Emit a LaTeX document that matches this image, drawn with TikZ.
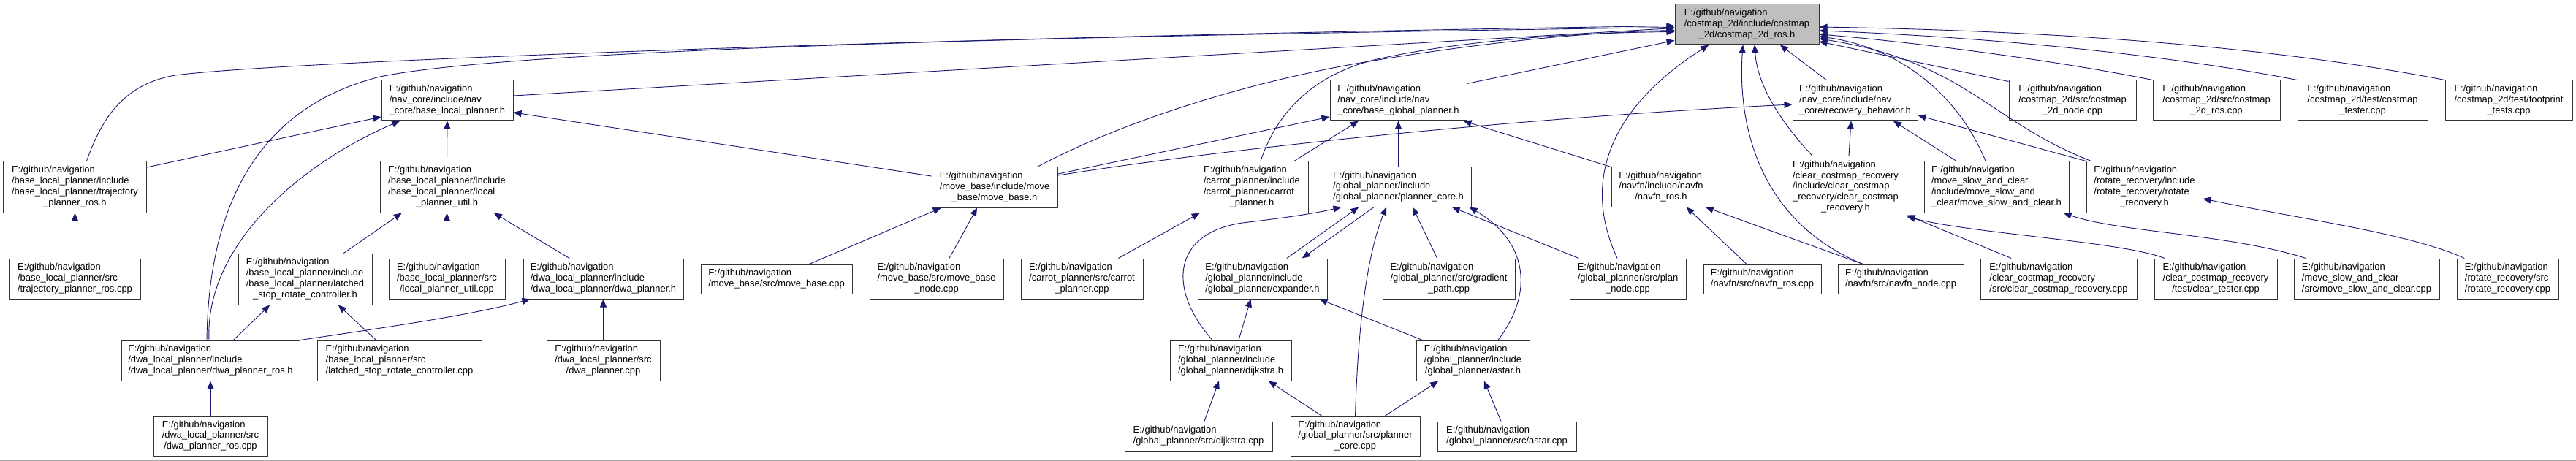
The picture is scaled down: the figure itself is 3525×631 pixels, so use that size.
\documentclass[tikz,border=0pt]{standalone}
\usepackage{fontspec}
\setmainfont{Liberation Sans}
\usetikzlibrary{arrows.meta}
\definecolor{edgeblue}{HTML}{191970}
\newcommand{\navfile}[2]{\begin{tabular}{@{}l@{}}E:/github/navigation\\#1\multicolumn{1}{@{}c@{}}{#2}\end{tabular}}
\begin{document}
\begin{tikzpicture}[x=1bp, y=-1bp, line join=round,
	file/.style={draw=black!80, line width=1bp, fill=white, inner sep=0pt, font=\fontsize{13}{14.8}\selectfont},
	box/.style 2 args={minimum width=#1bp, minimum height=#2bp},
	inc/.style={edgeblue, line width=0.9bp, -{Triangle[length=11bp, width=9bp]}}]
	\useasboundingbox (0,0) rectangle (3525,631);
	\fill[white] (0,0) rectangle (3525,631);
	\draw[black!35, line width=1.5bp] (0,630) -- (3525,630);

	\node[file, fill=black!25, box={197}{55}] (root) at (2390.5,33.5) {\navfile{/costmap\_2d/include/costmap\\}{\_2d/costmap\_2d\_ros.h}};

	\node[file, box={180}{55}] (blph) at (612,137.5) {\navfile{/nav\_core/include/nav\\}{\_core/base\_local\_planner.h}};
	\node[file, box={187}{55}] (bgph) at (1913.5,137.5) {\navfile{/nav\_core/include/nav\\}{\_core/base\_global\_planner.h}};
	\node[file, box={171}{55}] (rbh) at (2538.5,137.5) {\navfile{/nav\_core/include/nav\\}{\_core/recovery\_behavior.h}};
	\node[file, box={174}{55}] (c2dnode) at (2836,137.5) {\navfile{/costmap\_2d/src/costmap\\}{\_2d\_node.cpp}};
	\node[file, box={174}{55}] (c2dros) at (3033,137.5) {\navfile{/costmap\_2d/src/costmap\\}{\_2d\_ros.cpp}};
	\node[file, box={178}{55}] (ctester) at (3233,137.5) {\navfile{/costmap\_2d/test/costmap\\}{\_tester.cpp}};
	\node[file, box={174}{55}] (fptest) at (3433,137.5) {\navfile{/costmap\_2d/test/footprint\\}{\_tests.cpp}};

	\node[file, box={195}{70}] (tprh) at (102.5,256) {\navfile{/base\_local\_planner/include\\/base\_local\_planner/trajectory\\}{\_planner\_ros.h}};
	\node[file, box={183}{70}] (lpuh) at (611.5,256) {\navfile{/base\_local\_planner/include\\/base\_local\_planner/local\\}{\_planner\_util.h}};
	\node[file, box={172}{55}] (mbh) at (1361,256.5) {\navfile{/move\_base/include/move\\}{\_base/move\_base.h}};
	\node[file, box={154}{70}] (cph) at (1713,256) {\navfile{/carrot\_planner/include\\/carrot\_planner/carrot\\}{\_planner.h}};
	\node[file, box={199}{54}] (pch) at (1913.5,256) {\navfile{/global\_planner/include\\}{/global\_planner/planner\_core.h}};
	\node[file, box={136}{54}] (nrh) at (2273,256) {\navfile{/navfn/include/navfn\\}{/navfn\_ros.h}};
	\node[file, box={167}{84}] (ccrh) at (2525.5,256) {\navfile{/clear\_costmap\_recovery\\/include/clear\_costmap\\\_recovery/clear\_costmap\\}{\_recovery.h}};
	\node[file, box={198}{70}] (msch) at (2732,256) {\navfile{/move\_slow\_and\_clear\\/include/move\_slow\_and\\}{\_clear/move\_slow\_and\_clear.h}};
	\node[file, box={159}{70}] (rrh) at (2934.5,256) {\navfile{/rotate\_recovery/include\\/rotate\_recovery/rotate\\}{\_recovery.h}};

	\node[file, box={179}{55}] (tprcpp) at (102.5,381.5) {\navfile{/base\_local\_planner/src\\}{/trajectory\_planner\_ros.cpp}};
	\node[file, box={183}{70}] (lsrch) at (417.5,382) {\navfile{/base\_local\_planner/include\\/base\_local\_planner/latched\\}{\_stop\_rotate\_controller.h}};
	\node[file, box={159}{55}] (lpucpp) at (611.5,381.5) {\navfile{/base\_local\_planner/src\\}{/local\_planner\_util.cpp}};
	\node[file, box={219}{55}] (dph) at (825.5,381.5) {\navfile{/dwa\_local\_planner/include\\}{/dwa\_local\_planner/dwa\_planner.h}};
	\node[file, box={207}{40}] (mbcpp) at (1062.5,382) {\navfile{}{/move\_base/src/move\_base.cpp}};
	\node[file, box={183}{55}] (mbncpp) at (1281.5,381.5) {\navfile{/move\_base/src/move\_base\\}{\_node.cpp}};
	\node[file, box={167}{55}] (cpcpp) at (1480.5,381.5) {\navfile{/carrot\_planner/src/carrot\\}{\_planner.cpp}};
	\node[file, box={177}{55}] (exph) at (1727.5,381.5) {\navfile{/global\_planner/include\\}{/global\_planner/expander.h}};
	\node[file, box={181}{55}] (gpcpp) at (1982.5,381.5) {\navfile{/global\_planner/src/gradient\\}{\_path.cpp}};
	\node[file, box={159}{55}] (pncpp) at (2227.5,381.5) {\navfile{/global\_planner/src/plan\\}{\_node.cpp}};
	\node[file, box={161}{40}] (nrcpp) at (2411.5,382) {\navfile{}{/navfn/src/navfn\_ros.cpp}};
	\node[file, box={172}{40}] (nncpp) at (2601,382) {\navfile{}{/navfn/src/navfn\_node.cpp}};
	\node[file, box={214}{55}] (ccrcpp) at (2817,381.5) {\navfile{/clear\_costmap\_recovery\\}{/src/clear\_costmap\_recovery.cpp}};
	\node[file, box={168}{55}] (ctcpp) at (3032,381.5) {\navfile{/clear\_costmap\_recovery\\}{/test/clear\_tester.cpp}};
	\node[file, box={199}{55}] (msccpp) at (3238.5,381.5) {\navfile{/move\_slow\_and\_clear\\}{/src/move\_slow\_and\_clear.cpp}};
	\node[file, box={139}{55}] (rrcpp) at (3431.5,381.5) {\navfile{/rotate\_recovery/src\\}{/rotate\_recovery.cpp}};

	\node[file, box={244}{55}] (dprh) at (288,493.5) {\navfile{/dwa\_local\_planner/include\\}{/dwa\_local\_planner/dwa\_planner\_ros.h}};
	\node[file, box={225}{55}] (lsrccpp) at (546.5,493.5) {\navfile{/base\_local\_planner/src\\}{/latched\_stop\_rotate\_controller.cpp}};
	\node[file, box={155}{55}] (dpcpp) at (825.5,493.5) {\navfile{/dwa\_local\_planner/src\\}{/dwa\_planner.cpp}};
	\node[file, box={166}{55}] (djh) at (1684,493.5) {\navfile{/global\_planner/include\\}{/global\_planner/dijkstra.h}};
	\node[file, box={155}{55}] (ash) at (2015.5,493.5) {\navfile{/global\_planner/include\\}{/global\_planner/astar.h}};

	\node[file, box={156}{54}] (dprcpp) at (288,597) {\navfile{/dwa\_local\_planner/src\\}{/dwa\_planner\_ros.cpp}};
	\node[file, box={202}{40}] (djcpp) at (1640,597) {\navfile{}{/global\_planner/src/dijkstra.cpp}};
	\node[file, box={177}{54}] (pccpp) at (1854.5,597) {\navfile{/global\_planner/src/planner\\}{\_core.cpp}};
	\node[file, box={190}{40}] (ascpp) at (2062,597) {\navfile{}{/global\_planner/src/astar.cpp}};

	\draw[inc] ([xshift=16pt]tprh.north) .. controls (140,160) and (170,115) .. (240,103) .. controls (400,82) and (1400,48) .. ([yshift=-2pt]root.west);
	\draw[inc] ([xshift=-5pt]dprh.north) .. controls (285,300) and (340,150) .. (520,105) .. controls (700,68) and (1400,50) .. ([yshift=-4pt]root.west);
	\draw[inc] ([yshift=6.5pt]blph.east) -- ([yshift=-5pt]root.west);
	\draw[inc] ([xshift=58.5pt]mbh.north) .. controls (1500,185) and (1650,125) .. (1850,88) .. controls (2000,62) and (2150,45) .. ([yshift=-8pt]root.west);
	\draw[inc] ([xshift=12pt]cph.north) .. controls (1745,160) and (1790,105) .. (1880,82) .. controls (2000,55) and (2150,45) .. ([yshift=-10pt]root.west);
	\draw[inc] ([yshift=-5pt]bgph.north east) -- ([yshift=-22pt]root.west);
	\draw[inc] ([xshift=-39.5pt]rbh.north) -- ([xshift=45.5pt]root.south);
	\draw[inc] ([xshift=-45.5pt]ccrh.north) .. controls (2440,170) and (2405,120) .. ([xshift=10.5pt]root.south);
	\draw[inc] ([xshift=-52pt]nncpp.north) .. controls (2400,300) and (2378,160) .. ([xshift=-5.5pt]root.south);
	\draw[inc] ([xshift=-14.5pt]pncpp.north) .. controls (2165,250) and (2200,150) .. ([xshift=-52.5pt]root.south);
	\draw[inc] ([yshift=-2pt]c2dnode.north west) -- ([yshift=-23.5pt]root.east);
	\draw[inc] (c2dros.north west) .. controls (2800,80) and (2600,56) .. ([yshift=-13.5pt]root.east);
	\draw[inc] (ctester.north west) .. controls (2950,72) and (2700,50) .. ([yshift=-8.5pt]root.east);
	\draw[inc] (fptest.north west) .. controls (3100,62) and (2800,42) .. ([yshift=-3.5pt]root.east);
	\draw[inc] ([xshift=-15pt]msch.north) .. controls (2680,130) and (2600,65) .. ([yshift=-16.5pt]root.east);
	\draw[inc] ([xshift=7pt]rrh.north west) .. controls (2720,165) and (2690,85) .. ([yshift=-19.5pt]root.east);

	\draw[inc] ([yshift=27pt]tprh.east) -- ([yshift=-22.5pt]blph.west);
	\draw[inc] ([xshift=-2pt]dprh.north) .. controls (280,330) and (420,220) .. ([xshift=-65pt]blph.south);
	\draw[inc] (lpuh.north) -- (blph.south);
	\draw[inc] ([yshift=15.5pt]mbh.west) -- ([yshift=-16.5pt]blph.east);
	\draw[inc] ([xshift=53pt]lsrch.north) -- ([xshift=-62pt]lpuh.south);
	\draw[inc] (lpucpp.north) -- (lpuh.south);
	\draw[inc] ([xshift=-46.5pt]dph.north) -- ([xshift=64.5pt]lpuh.south);
	\draw[inc] (tprcpp.north) -- (tprh.south);
	\draw[inc] ([xshift=31.6pt]dprh.north) -- ([xshift=-48.5pt]lsrch.south);
	\draw[inc] ([xshift=-32pt]lsrccpp.north) -- ([xshift=45.5pt]lsrch.south);
	\draw[inc] (dprh.north east) .. controls (550,445) and (650,430) .. ([xshift=10pt]dph.south west);
	\draw[inc] (dprcpp.north) -- (dprh.south);
	\draw[inc] (dpcpp.north) -- (dph.south);

	\draw[inc] ([xshift=45pt]mbcpp.north) -- ([xshift=-73.5pt]mbh.south);
	\draw[inc] ([xshift=17.5pt]mbncpp.north) -- ([xshift=-24pt]mbh.south);
	\draw[inc] ([yshift=18.5pt]mbh.east) -- ([yshift=-22.5pt]bgph.west);
	\draw[inc] ([yshift=16.5pt]mbh.east) .. controls (1700,200) and (2100,160) .. ([yshift=-5.5pt]rbh.west);
	\draw[inc] ([xshift=58pt]cph.north) -- ([xshift=-54.7pt]bgph.south);
	\draw[inc] ([xshift=50pt]cpcpp.north) -- ([xshift=-71.5pt]cph.south);
	\draw[inc] (pch.north) -- (bgph.south);
	\draw[inc] (nrh.north west) -- ([xshift=-5pt]bgph.south east);
	\draw[inc] ([xshift=-21.5pt]nrcpp.north) -- ([xshift=34.7pt]nrh.south);
	\draw[inc] ([xshift=-52pt]nncpp.north) -- ([xshift=61pt]nrh.south);

	\draw[inc] ([xshift=4.5pt]ccrh.north) -- ([xshift=-5.5pt]rbh.south);
	\draw[inc] ([xshift=-55pt]msch.north) -- ([xshift=52.5pt]rbh.south);
	\draw[inc] (rrh.north west) -- ([yshift=-20.5pt]rbh.east);
	\draw[inc] ([xshift=-65pt]ccrcpp.north) -- ([yshift=4pt]ccrh.south east);
	\draw[inc] ([xshift=-70pt]ctcpp.north) .. controls (2900,330) and (2700,320) .. ([yshift=2pt]ccrh.south east);
	\draw[inc] ([xshift=-83.5pt]msccpp.north) .. controls (3050,320) and (2900,318) .. ([xshift=92pt]msch.south);
	\draw[inc] ([xshift=-59.5pt]rrcpp.north) .. controls (3300,320) and (3150,300) .. ([yshift=-16pt]rrh.east);

	\draw[inc] (pccpp.north) .. controls (1858,450) and (1870,350) .. ([xshift=-16.5pt]pch.south);
	\draw[inc] ([xshift=-16pt]gpcpp.north) -- ([xshift=19.5pt]pch.south);
	\draw[inc] ([xshift=13pt]pncpp.north west) -- ([xshift=73.5pt]pch.south);
	\draw[inc] ([xshift=34.5pt]ash.north) .. controls (2100,400) and (2090,330) .. ([xshift=-3pt]pch.south east);
	\draw[inc] ([xshift=33.5pt]exph.north) -- ([xshift=-54.5pt]pch.south);
	\draw[inc] ([xshift=-33.5pt]pch.south) -- ([xshift=54.5pt]exph.north);
	\draw[inc] ([xshift=-25pt]djh.north) .. controls (1600,400) and (1600,320) .. (1700,305) .. controls (1760,298) and (1800,292) .. ([xshift=22pt]pch.south west);
	\draw[inc] ([xshift=11pt]djh.north) -- ([xshift=-16pt]exph.south);
	\draw[inc] ([xshift=9pt]ash.north west) -- ([xshift=-11pt]exph.south east);
	\draw[inc] ([xshift=-45.5pt]pccpp.north) -- ([xshift=52pt]djh.south);
	\draw[inc] ([xshift=40.5pt]pccpp.north) -- ([xshift=-47.5pt]ash.south);
	\draw[inc] ([xshift=-8pt]ascpp.north) -- ([xshift=15.5pt]ash.south);
	\draw[inc] ([xshift=8pt]djcpp.north) -- ([xshift=-16pt]djh.south);
\end{tikzpicture}
\end{document}
